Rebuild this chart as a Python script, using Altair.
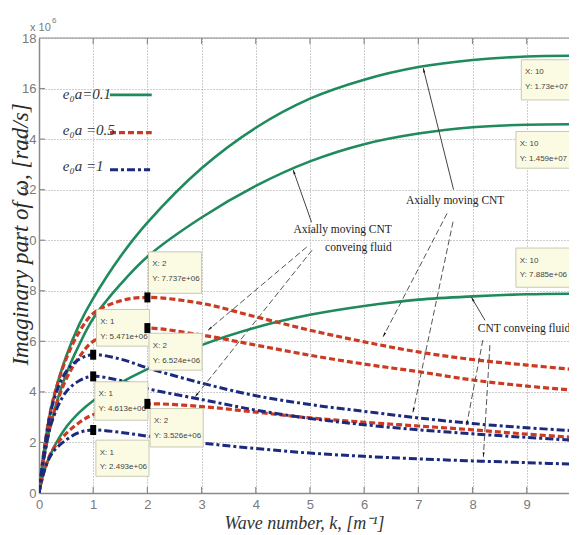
import math
import altair as alt
import pandas as pd

# ---------------- data ----------------
k = [0, 0.1, 0.25, 0.5, 0.75, 1, 1.5, 2, 3, 4, 5, 6, 7, 8, 9, 10]
# e0a = 0.1 (green, solid)
green_axial = [0, 1.8, 3.6, 5.4, 6.7, 7.7, 9.35, 10.7, 12.85, 14.45, 15.6, 16.35, 16.85, 17.13, 17.27, 17.3]
green_axial_fluid = [0, 1.5, 3.0, 4.7, 5.9, 6.9, 8.25, 9.35, 10.9, 12.15, 13.12, 13.8, 14.22, 14.47, 14.57, 14.59]
green_fluid = [0, 0.9, 1.7, 2.6, 3.2, 3.65, 4.35, 4.9, 5.85, 6.55, 7.05, 7.4, 7.65, 7.78, 7.86, 7.885]
# e0a = 0.5 (red, dashed)
red_axial = [0, 1.8, 3.6, 5.3, 6.4, 7.1, 7.6, 7.737, 7.5, 6.97, 6.44, 5.98, 5.58, 5.28, 5.06, 4.86]
red_axial_fluid = [0, 1.5, 3.0, 4.5, 5.4, 6.0, 6.4, 6.524, 6.25, 5.85, 5.45, 5.1, 4.8, 4.47, 4.23, 4.05]
red_fluid = [0, 0.9, 1.7, 2.35, 2.8, 3.1, 3.4, 3.526, 3.42, 3.2, 2.97, 2.8, 2.65, 2.5, 2.33, 2.18]
# e0a = 1 (blue, dash-dot)
blue_axial = [0, 1.7, 3.5, 4.8, 5.3, 5.471, 5.3, 4.95, 4.35, 3.85, 3.5, 3.23, 2.97, 2.75, 2.58, 2.45]
blue_axial_fluid = [0, 1.5, 2.9, 4.0, 4.45, 4.613, 4.45, 4.13, 3.7, 3.28, 2.95, 2.7, 2.5, 2.34, 2.2, 2.07]
blue_fluid = [0, 0.9, 1.6, 2.1, 2.4, 2.493, 2.4, 2.25, 1.98, 1.76, 1.58, 1.45, 1.35, 1.27, 1.2, 1.13]

x_ticks = [0, 1, 2, 3, 4, 5, 6, 7, 8, 9]
y_ticks = [0, 2, 4, 6, 8, 10, 12, 14, 16, 18]

# data tips
tip_x = [10, 10, 10, 2, 1, 2, 1, 2, 1]
tip_y = [17.3, 14.59, 7.885, 7.737, 5.471, 6.524, 4.613, 3.526, 2.493]
tip_line1 = ["X: 10", "X: 10", "X: 10", "X: 2", "X: 1", "X: 2", "X: 1", "X: 2", "X: 1"]
tip_line2 = ["Y: 1.73e+07", "Y: 1.459e+07", "Y: 7.885e+06", "Y: 7.737e+06", "Y: 5.471e+06",
             "Y: 6.524e+06", "Y: 4.613e+06", "Y: 3.526e+06", "Y: 2.493e+06"]

legend_labels = ["e\u2080a=0.1", "e\u2080a =0.5", "e\u2080a =1"]

# ---------------- layout / style ----------------
XMAX = 9.78
W, H = 530, 455
SX, SY = W / XMAX, H / 18.0
GREEN, RED, BLUE = "#1f8a5c", "#cc3a22", "#1c2a7e"
SERIF = "Liberation Serif"
AXFONT = "Liberation Sans"

x_axis = alt.Axis(values=x_ticks, format="d", grid=True, gridDash=[1, 2], gridColor="#9a9a9a",
                  gridWidth=1, ticks=False, domainColor="#8a8a8a", domainWidth=1.5,
                  labelFont=AXFONT, labelFontSize=13, labelColor="#7a7a7a", labelPadding=5,
                  labelFlush=False, title="Wave number, k, [m\u207b\u00b9]", titleFont=SERIF,
                  titleFontStyle="italic", titleFontWeight="normal", titleFontSize=18,
                  titleColor="#333333", titleY=30, titleBaseline="middle")
y_axis = alt.Axis(values=y_ticks, format="d", grid=True, gridDash=[1, 2], gridColor="#9a9a9a",
                  gridWidth=1, ticks=False, domainColor="#8a8a8a", domainWidth=1.5,
                  labelFont=AXFONT, labelFontSize=13, labelColor="#7a7a7a", labelPadding=3,
                  labelFlush=False, title="Imaginary part of \u03c9, [rad/s]", titleFont=SERIF,
                  titleFontStyle="italic", titleFontWeight="normal", titleFontSize=23,
                  titleColor="#2a2a2a", titleX=-19, titleY=196, titleBaseline="middle", titleAngle=270)


def X(f):
    return alt.X(f"{f}:Q", scale=alt.Scale(domain=[0, XMAX], nice=False, zero=False), axis=x_axis)


def Y(f):
    return alt.Y(f"{f}:Q", scale=alt.Scale(domain=[0, 18], nice=False, zero=False), axis=y_axis)


def long(names, arrays):
    rows = []
    for n, arr in zip(names, arrays):
        for kk, v in zip(k, arr):
            rows.append({"k": kk, "w": v, "s": n})
    return pd.DataFrame(rows)


df_g = long(["g1", "g2", "g3"], [green_axial, green_axial_fluid, green_fluid])
df_r = long(["r1", "r2", "r3"], [red_axial, red_axial_fluid, red_fluid])
df_b = long(["b1", "b2", "b3"], [blue_axial, blue_axial_fluid, blue_fluid])

CURVE = "catmull-rom"
green = alt.Chart(df_g).mark_line(color=GREEN, strokeWidth=2.6, interpolate=CURVE, clip=True).encode(
    x=X("k"), y=Y("w"), detail="s:N")
red = alt.Chart(df_r).mark_line(color=RED, strokeWidth=3.2, strokeDash=[6, 3], interpolate=CURVE,
                                clip=True).encode(x=X("k"), y=Y("w"), detail="s:N")
blue = alt.Chart(df_b).mark_line(color=BLUE, strokeWidth=3.0, strokeDash=[8, 3, 3, 3],
                                 interpolate=CURVE, clip=True).encode(x=X("k"), y=Y("w"), detail="s:N")

# frame top and inward ticks
tick_rows = [{"x": 0, "y": 18, "x2": XMAX, "y2": 18}]
for t in x_ticks[1:]:
    tick_rows.append({"x": t, "y": 0, "x2": t, "y2": 0.24})
    tick_rows.append({"x": t, "y": 18, "x2": t, "y2": 17.76})
for t in y_ticks[1:-1]:
    tick_rows.append({"x": 0, "y": t, "x2": 0.11, "y2": t})
ticks = alt.Chart(pd.DataFrame(tick_rows)).mark_rule(color="#8a8a8a", strokeWidth=1.2).encode(
    x=X("x"), y=Y("y"), x2="x2:Q", y2="y2:Q")

# arrows (annotation geometry, data coordinates)
arrows = pd.DataFrame({
    "xt": [7.65, 5.03, 8.23, 7.53, 7.64, 4.94, 5.04, 8.19, 8.32],
    "yt": [12.0, 10.71, 6.83, 11.06, 10.73, 9.73, 9.61, 6.05, 5.85],
    "xh": [7.09, 4.69, 7.98, 6.35, 6.90, 3.12, 2.88, 7.89, 8.20],
    "yh": [16.81, 12.78, 7.74, 6.18, 3.19, 6.44, 3.80, 2.68, 1.43],
    "dashed": [False, False, False, True, True, True, True, True, True],
})
arrows["ang"] = [
    (math.degrees(math.atan2((xh - xt) * SX, (yh - yt) * SY)) + 360) % 360
    for xt, yt, xh, yh in zip(arrows.xt, arrows.yt, arrows.xh, arrows.yh)
]
solid_lines = alt.Chart(arrows[~arrows.dashed]).mark_rule(color="#444444", strokeWidth=1).encode(
    x=X("xt"), y=Y("yt"), x2="xh:Q", y2="yh:Q")
dashed_lines = alt.Chart(arrows[arrows.dashed]).mark_rule(color="#555555", strokeWidth=1,
                                                         strokeDash=[6, 3]).encode(
    x=X("xt"), y=Y("yt"), x2="xh:Q", y2="yh:Q")
heads = alt.Chart(arrows).mark_point(shape="M0,0L0.45,2L-0.45,2Z", size=20, filled=True,
                                     color="#111111", opacity=1).encode(
    x=X("xh"), y=Y("yh"), angle=alt.Angle("ang:Q", scale=None))

# data tips
boxes = pd.DataFrame({
    "x0": [8.9, 8.8, 8.8, 2.02, 1.06, 2.03, 1.03, 2.05, 1.05],
    "y0": [17.14, 14.30, 9.69, 9.54, 7.26, 6.32, 4.40, 3.34, 2.09],
    "y1": [15.55, 12.85, 8.14, 7.90, 5.81, 4.86, 2.88, 1.82, 0.66],
    "l1": tip_line1, "l2": tip_line2,
})
boxes["x1"] = [10.2, 10.2, 10.2] + list(boxes.x0[3:] + 0.98)
boxes["tx"] = boxes.x0 + 0.07
boxes["ty1"] = boxes.y0 - 0.5
boxes["ty2"] = boxes.y0 - 1.08
box_rect = alt.Chart(boxes).mark_rect(fill="#fbfbe4", stroke="#c9c9b4", strokeWidth=1, clip=True).encode(
    x=X("x0"), x2="x1:Q", y=Y("y0"), y2="y1:Q")
box_t1 = alt.Chart(boxes).mark_text(align="left", baseline="middle", font=AXFONT, fontSize=8,
                                    color="#444444", clip=True).encode(x=X("tx"), y=Y("ty1"), text="l1:N")
box_t2 = alt.Chart(boxes).mark_text(align="left", baseline="middle", font=AXFONT, fontSize=8,
                                    color="#444444", clip=True).encode(x=X("tx"), y=Y("ty2"), text="l2:N")
markers = alt.Chart(pd.DataFrame({"x": tip_x, "y": tip_y})).mark_point(
    shape="M-0.6,-1H0.6V1H-0.6Z", size=100, filled=True, color="#000000", opacity=1, clip=True).encode(
    x=X("x"), y=Y("y"))

# legend
leg = pd.DataFrame({"lab": legend_labels, "tx": [0.44, 0.44, 0.44], "ty": [15.79, 14.36, 12.93],
                    "lx": [1.31, 1.31, 1.31], "lx2": [2.08, 2.08, 2.05], "ly": [15.75, 14.26, 12.79]})
leg_text = alt.Chart(leg).mark_text(align="left", baseline="middle", font=SERIF, fontStyle="italic",
                                    fontSize=15, color="#333333").encode(x=X("tx"), y=Y("ty"), text="lab:N")
leg_g = alt.Chart(leg.iloc[[0]]).mark_rule(color=GREEN, strokeWidth=2.6).encode(
    x=X("lx"), x2="lx2:Q", y=Y("ly"))
leg_r = alt.Chart(leg.iloc[[1]]).mark_rule(color=RED, strokeWidth=3.2, strokeDash=[6, 3]).encode(
    x=X("lx"), x2="lx2:Q", y=Y("ly"))
leg_b = alt.Chart(leg.iloc[[2]]).mark_rule(color=BLUE, strokeWidth=3.0, strokeDash=[8, 3, 3, 3]).encode(
    x=X("lx"), x2="lx2:Q", y=Y("ly"))

# annotation labels
notes = pd.DataFrame({
    "txt": ["Axially moving CNT", "Axially moving CNT", "conveing fluid", "CNT conveing fluid"],
    "x": [7.68, 6.51, 6.51, 8.95], "y": [11.55, 10.40, 9.69, 6.47],
    "al": ["center", "right", "right", "center"],
})
note_c = alt.Chart(notes[notes.al == "center"]).mark_text(align="center", baseline="middle", font=SERIF,
                                                         fontSize=11.5, color="#222222").encode(
    x=X("x"), y=Y("y"), text="txt:N")
note_r = alt.Chart(notes[notes.al == "right"]).mark_text(align="right", baseline="middle", font=SERIF,
                                                        fontSize=11.5, color="#222222").encode(
    x=X("x"), y=Y("y"), text="txt:N")

# exponent label
exp_base = alt.Chart(pd.DataFrame({"t": ["x 10"]})).mark_text(
    align="left", baseline="middle", font=AXFONT, fontSize=11, color="#7a7a7a").encode(
    x=alt.value(-9), y=alt.value(-10), text="t:N")
exp_pow = alt.Chart(pd.DataFrame({"t": ["6"]})).mark_text(
    align="left", baseline="middle", font=AXFONT, fontSize=8, color="#7a7a7a").encode(
    x=alt.value(13), y=alt.value(-17), text="t:N")

chart = alt.layer(
    green, red, blue, ticks,
    solid_lines, dashed_lines, heads,
    box_rect, box_t1, box_t2, markers,
    leg_g, leg_r, leg_b, leg_text,
    note_c, note_r, exp_base, exp_pow,
).properties(
    width=W, height=H,
    autosize=alt.AutoSizeParams(type="none"),
    padding={"left": 31, "top": 30, "right": 0, "bottom": 44},
    background="white",
).configure_view(strokeWidth=0)

chart.save("out.html", embed_options={"renderer": "svg", "actions": False})
